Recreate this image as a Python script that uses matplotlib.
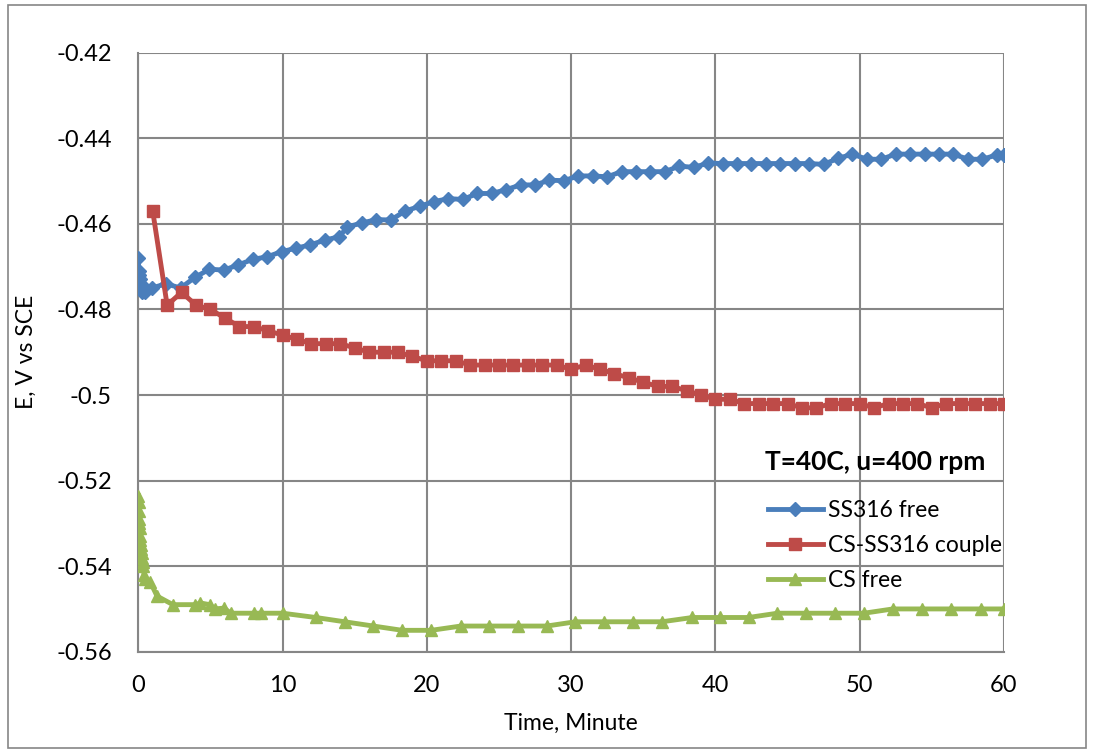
import matplotlib
matplotlib.use("Agg")
import matplotlib.pyplot as plt
from matplotlib.patches import Rectangle

plt.rcParams['font.family'] = ['Lato', 'DejaVu Sans']

# SS316 free (blue diamonds)
ss_time = [0, 0.03, 0.06, 0.1, 0.13, 0.17, 0.2, 0.25, 0.5,
           0.93, 1.93, 2.93, 3.93, 4.93, 5.93, 6.93, 7.93, 8.93, 9.93,
           10.93, 11.93, 12.93, 13.93,
           14.5, 15.5, 16.5, 17.5, 18.5, 19.5, 20.5, 21.5, 22.5, 23.5,
           24.5, 25.5, 26.5, 27.5, 28.5, 29.5, 30.5, 31.5, 32.5, 33.5,
           34.5, 35.5, 36.5, 37.5, 38.5, 39.5, 40.5, 41.5, 42.5, 43.5,
           44.5, 45.5, 46.5, 47.5, 48.5, 49.5, 50.5, 51.5, 52.5, 53.5,
           54.5, 55.5, 56.5, 57.5, 58.5, 59.5, 60]
ss_e = [-0.468, -0.471, -0.472, -0.473, -0.474, -0.475, -0.474, -0.476, -0.476,
        -0.475, -0.474, -0.475, -0.4725, -0.4706, -0.4708, -0.4696, -0.4683, -0.4677, -0.4665,
        -0.4657, -0.4649, -0.4638, -0.463,
        -0.4607, -0.4598, -0.459, -0.4591, -0.457, -0.4559, -0.4548, -0.4541, -0.4543, -0.4529,
        -0.4529, -0.452, -0.4509, -0.4509, -0.4498, -0.4499, -0.4488, -0.4488, -0.449, -0.4478,
        -0.4478, -0.4478, -0.4478, -0.4465, -0.4468, -0.4458, -0.4459, -0.4459, -0.4459, -0.4459,
        -0.4459, -0.4459, -0.4459, -0.4461, -0.4447, -0.4437, -0.4449, -0.4449, -0.4437, -0.4437,
        -0.4437, -0.4437, -0.4437, -0.4449, -0.4449, -0.4439, -0.4439]

# CS-SS316 couple (red squares)
couple_time = list(range(1, 61))
couple_e = [-0.457, -0.479, -0.476, -0.479, -0.480, -0.482, -0.484, -0.484, -0.485, -0.486,
            -0.487, -0.488, -0.488, -0.488, -0.489, -0.490, -0.490, -0.490, -0.491, -0.492,
            -0.492, -0.492, -0.493, -0.493, -0.493, -0.493, -0.493, -0.493, -0.493, -0.494,
            -0.493, -0.494, -0.495, -0.496, -0.497, -0.498, -0.498, -0.499, -0.500, -0.501,
            -0.501, -0.502, -0.502, -0.502, -0.502, -0.503, -0.503, -0.502, -0.502, -0.502,
            -0.503, -0.502, -0.502, -0.502, -0.503, -0.502, -0.502, -0.502, -0.502, -0.502]

# CS free (green triangles)
cs_time = [0, 0.02, 0.04, 0.06, 0.08, 0.1, 0.12, 0.14, 0.17, 0.2, 0.23, 0.27, 0.3, 0.35, 0.4,
           0.5, 0.83, 1.3, 2.4, 3.95, 4.3, 4.95, 5.3, 5.95, 6.4, 8.0, 8.5, 10.0,
           12.3, 14.3, 16.3, 18.3, 20.3, 22.35, 24.3, 26.3, 28.3, 30.3, 32.3, 34.3,
           36.3, 38.4, 40.3, 42.3, 44.3, 46.3, 48.3, 50.3, 52.3, 54.3, 56.3, 58.4, 60]
cs_e = [-0.5235, -0.525, -0.527, -0.529, -0.530, -0.531, -0.533, -0.534, -0.535, -0.536,
        -0.537, -0.538, -0.539, -0.540, -0.542,
        -0.543, -0.5437, -0.547, -0.549, -0.549, -0.5486, -0.549, -0.550, -0.5498, -0.551,
        -0.551, -0.551, -0.551,
        -0.552, -0.553, -0.554, -0.555, -0.555, -0.554, -0.554, -0.554, -0.554, -0.553,
        -0.553, -0.553, -0.553, -0.552, -0.552, -0.552, -0.551, -0.551, -0.551, -0.551,
        -0.550, -0.550, -0.550, -0.550, -0.550]

x_ticks = [0, 10, 20, 30, 40, 50, 60]
y_ticks = [-0.56, -0.54, -0.52, -0.5, -0.48, -0.46, -0.44, -0.42]
y_labels = ['-0.56', '-0.54', '-0.52', '-0.5', '-0.48', '-0.46', '-0.44', '-0.42']

grey = '#868686'

fig = plt.figure(figsize=(10.94, 7.53), dpi=100)
ax = fig.add_axes([0.1264, 0.1345, 0.7913, 0.7955])

ax.plot(ss_time, ss_e, color='#4A7EBB', lw=3.5, marker='D', ms=7.5,
        label='SS316 free', zorder=3)
ax.plot(couple_time, couple_e, color='#BE4B48', lw=3.5, marker='s', ms=8.5,
        label='CS-SS316 couple', zorder=3)
ax.plot(cs_time, cs_e, color='#98B954', lw=3.5, marker='^', ms=9,
        label='CS free', zorder=3)

ax.set_xlim(0, 60)
ax.set_ylim(-0.56, -0.42)
ax.set_xticks(x_ticks)
ax.set_yticks(y_ticks)
ax.set_yticklabels(y_labels)
ax.grid(True, color=grey, lw=1.5)
ax.set_axisbelow(True)
for side in ['top', 'right']:
    ax.spines[side].set_visible(False)
for side in ['left', 'bottom']:
    ax.spines[side].set_color(grey)
    ax.spines[side].set_linewidth(1.5)
ax.tick_params(axis='both', length=0, labelsize=17)
ax.tick_params(axis='y', pad=19)
ax.tick_params(axis='x', pad=17)

ax.set_xlabel('Time, Minute', fontsize=16.5, labelpad=12)
ax.set_ylabel('E, V vs SCE', fontsize=16.5, labelpad=14)

ax.text(0.978, 0.3167, 'T=40C, u=400 rpm', transform=ax.transAxes,
        ha='right', va='center', fontsize=19, fontweight='bold')

ax.legend(loc='upper left', bbox_to_anchor=(0.7274, 0.253), frameon=False,
          fontsize=16.5, numpoints=1, handlelength=2.4, handletextpad=0.2,
          borderpad=0, borderaxespad=0, labelspacing=0.6)

fig.patches.append(Rectangle((8 / 1094, 5 / 753), 1078 / 1094, 743 / 753,
                             transform=fig.transFigure, fill=False,
                             edgecolor=grey, lw=1.2))

fig.savefig('out.png', dpi=100)
